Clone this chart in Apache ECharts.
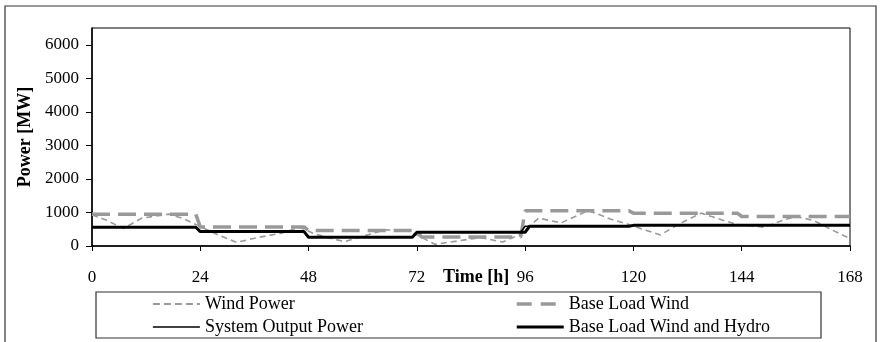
<!DOCTYPE html>
<html>
<head>
<meta charset="utf-8">
<script src="https://cdn.jsdelivr.net/npm/echarts@6/dist/echarts.min.js"></script>
<style>
html,body{margin:0;padding:0;background:#fff;}
#chart{width:880px;height:342px;}
</style>
</head>
<body>
<div id="chart"></div>
<script>
// Series data: [hour, MW]
var windPower = [[0,930],[3,780],[7,520],[11,830],[17,950],[20,830],[24,580],[28,330],[32,110],[37,260],[42,380],[46,560],[49,380],[52,260],[56,130],[61,330],[65,480],[70,470],[72,330],[76,50],[81,150],[86,250],[91,120],[95,350],[99,830],[104,690],[110,1060],[115,800],[119,640],[122,500],[126,330],[130,650],[135,980],[140,760],[143,640],[149,560],[153,760],[156,880],[160,760],[164,480],[168,220]];
var baseLoadWind = [[0,950],[23,950],[24,570],[47,570],[48,460],[72,460],[73,270],[95,270],[96,1050],[119,1050],[120,980],[143,980],[144,880],[168,880]];
var systemOutput = [[0,560],[23,560],[24,430],[47,430],[48,260],[71,260],[72,410],[95,410],[96,590],[119,590],[120,615],[168,615]];
var baseLoadWindHydro = [[0,560],[23,560],[24,430],[47,430],[48,260],[71,260],[72,410],[96,410],[97,590],[119,590],[120,615],[168,615]];
var xTicks = [0,24,48,72,96,120,144,168];
var yTicks = [0,1000,2000,3000,4000,5000,6000];
var seriesNames = ['Wind Power','Base Load Wind','System Output Power','Base Load Wind and Hydro'];

var FONT = 'Liberation Serif';
var styles = [
  {color: '#999', width: 1.6, type: [6,4]},
  {color: '#999', width: 3.5, type: [18,8]},
  {color: '#000', width: 1.5, type: 'solid'},
  {color: '#000', width: 3, type: 'solid'}
];
var legendStyles = [
  {color: '#999', width: 1.8, type: [7,4]},
  {color: '#999', width: 3.5, type: [15,9]},
  {color: '#000', width: 1.5, type: 'solid'},
  {color: '#000', width: 3, type: 'solid'}
];
function legendItem(i){
  return {name: seriesNames[i], lineStyle: legendStyles[i], itemStyle: {opacity: 0}};
}
var chart = echarts.init(document.getElementById('chart'));
chart.setOption({
  animation: false,
  textStyle: {fontFamily: FONT, color: '#000'},
  grid: {left: 92, top: 28, right: 30, bottom: 96, show: true, borderColor: '#000', borderWidth: 1},
  xAxis: {
    type: 'value', min: xTicks[0], max: xTicks[xTicks.length-1], interval: 24,
    axisLine: {lineStyle: {color: '#000', width: 1.5}},
    axisTick: {show: true, length: 5, lineStyle: {color: '#000'}},
    axisLabel: {fontFamily: FONT, fontSize: 17, color: '#000', margin: 23},
    splitLine: {show: false}
  },
  yAxis: {
    type: 'value', min: 0, max: 6500, interval: 1000,
    name: 'Power [MW]', nameLocation: 'middle', nameGap: 57,
    nameTextStyle: {fontFamily: FONT, fontSize: 18, fontWeight: 'bold', color: '#000'},
    axisLine: {show: true, lineStyle: {color: '#000', width: 1.5}},
    axisTick: {show: true, length: 6, lineStyle: {color: '#000'}},
    axisLabel: {fontFamily: FONT, fontSize: 17, color: '#000', margin: 13, showMaxLabel: false,
      formatter: function(v){ return yTicks.indexOf(v) >= 0 ? String(v) : ''; }},
    splitLine: {show: false}
  },
  legend: [{
    data: [legendItem(0), legendItem(2)],
    orient: 'vertical', left: 152, top: 295, itemGap: 5, itemWidth: 47, itemHeight: 14,
    textStyle: {fontFamily: FONT, fontSize: 18, color: '#000'},
    padding: 0
  },{
    data: [legendItem(1), legendItem(3)],
    orient: 'vertical', left: 515, top: 295, itemGap: 5, itemWidth: 47, itemHeight: 14,
    textStyle: {fontFamily: FONT, fontSize: 18, color: '#000'},
    padding: 0
  }],
  graphic: [
    {type: 'rect', shape: {x: 5, y: 6, width: 871, height: 345}, style: {fill: 'none', stroke: '#333', lineWidth: 1.2}, silent: true},
    {type: 'rect', shape: {x: 96, y: 292, width: 725, height: 46}, style: {fill: 'none', stroke: '#333', lineWidth: 1.2}, silent: true},
    {type: 'text', left: 443, top: 268, style: {text: 'Time [h]', font: 'bold 18px "Liberation Serif"', fill: '#000'}, silent: true}
  ],
  series: [0,1,2,3].map(function(i){
    var data = [windPower, baseLoadWind, systemOutput, baseLoadWindHydro][i];
    return {name: seriesNames[i], type: 'line', data: data, symbol: 'none', showSymbol: false, z: 2 + i,
      lineStyle: styles[i], itemStyle: {color: styles[i].color}};
  })
});
</script>
</body>
</html>
